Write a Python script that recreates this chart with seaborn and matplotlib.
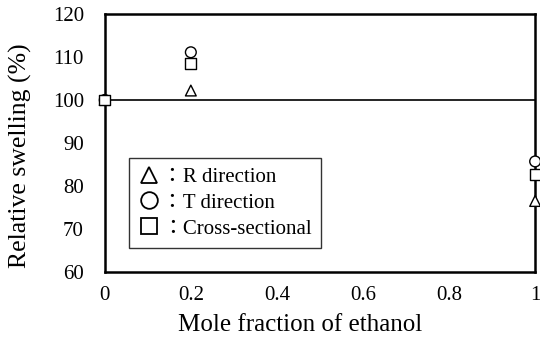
import matplotlib
matplotlib.use("Agg")
import matplotlib.pyplot as plt
import seaborn as sns
import pandas as pd
from matplotlib.lines import Line2D

x_vals = [0, 0.2, 1]
r_dir = [100, 102.2, 76.5]
t_dir = [100, 111.1, 85.7]
cross = [100, 108.4, 82.6]
series_names = ["R direction", "T direction", "Cross-sectional"]
x_ticks = [0, 0.2, 0.4, 0.6, 0.8, 1]
x_ticklabels = ["0", "0.2", "0.4", "0.6", "0.8", "1"]
y_ticks = [60, 70, 80, 90, 100, 110, 120]

sns.set_theme(style="white")
plt.rcParams['font.family'] = ['Liberation Serif', 'Noto Sans CJK JP', 'DejaVu Sans']

df = pd.DataFrame({
    "x": x_vals * 3,
    "y": r_dir + t_dir + cross,
    "series": [series_names[0]] * 3 + [series_names[1]] * 3 + [series_names[2]] * 3,
})

fig = plt.figure(figsize=(5.4, 3.42), dpi=100)
ax = fig.add_axes([0.194, 0.205, 0.797, 0.754])

ax.axhline(100, color="black", lw=1.2, zorder=1)

markers = {series_names[0]: "^", series_names[1]: "o", series_names[2]: "s"}
sns.scatterplot(data=df, x="x", y="y", style="series", markers=markers,
                s=60, color="white", edgecolor="black", linewidth=1.0,
                ax=ax, legend=False, zorder=3, clip_on=False)

ax.set_xlim(0, 1)
ax.set_ylim(60, 120)
ax.set_xticks(x_ticks)
ax.set_xticklabels(x_ticklabels)
ax.set_yticks(y_ticks)
ax.tick_params(direction="in", length=5, width=1.2, colors="black",
               labelsize=15)
ax.tick_params(axis="x", pad=10)
ax.tick_params(axis="y", pad=15)
for sp in ax.spines.values():
    sp.set_color("black")
    sp.set_linewidth(1.8)

ax.set_xlabel("Mole fraction of ethanol", fontsize=18, color="black")
ax.set_ylabel("Relative swelling (%)", fontsize=18.5, color="black")
ax.xaxis.set_label_coords(0.4535, -0.165)
ax.yaxis.set_label_coords(-0.168, 0.452)

handles = [Line2D([], [], ls="none", marker=markers[n], markersize=12,
                  markerfacecolor="white", markeredgecolor="black",
                  markeredgewidth=1.3) for n in series_names]
labels = ["：" + n for n in series_names]
leg = ax.legend(handles, labels, loc="lower left", bbox_to_anchor=(0.056, 0.093),
                frameon=True, fancybox=False, edgecolor="black", fontsize=15,
                handlelength=1.0, handletextpad=0.15, labelspacing=0.3,
                borderpad=0.45, borderaxespad=0)
leg.get_frame().set_linewidth(1.0)
leg.set_zorder(2)
for t in leg.get_texts():
    t.set_color("black")

fig.savefig("out.png", dpi=100)
